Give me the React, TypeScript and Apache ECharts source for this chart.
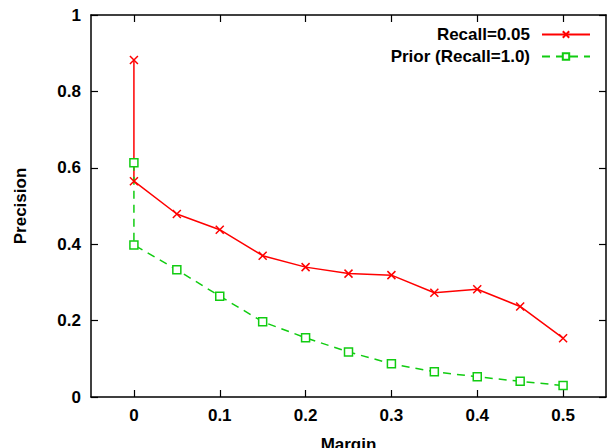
import React, { useEffect, useRef } from "react";
import * as echarts from "echarts";

const margins = [0, 0, 0.05, 0.1, 0.15, 0.2, 0.25, 0.3, 0.35, 0.4, 0.45, 0.5];
const recall005 = [0.882, 0.565, 0.479, 0.438, 0.37, 0.34, 0.323, 0.319, 0.273, 0.282, 0.237, 0.154];
const priorRecall1 = [0.613, 0.398, 0.333, 0.264, 0.197, 0.155, 0.118, 0.087, 0.066, 0.053, 0.041, 0.03];
const xTicks = [0, 0.1, 0.2, 0.3, 0.4, 0.5];
const seriesNames = ["Recall=0.05", "Prior (Recall=1.0)"];

const RED = "#ff0000";
const GREEN = "#11cc11";
const FONT = "Liberation Sans";

export default function App() {
  const ref = useRef<HTMLDivElement>(null);
  useEffect(() => {
    if (!ref.current) return;
    const chart = echarts.init(ref.current, undefined, { renderer: "svg" });
    const frameLine = { show: true, onZero: false, lineStyle: { color: "#000", width: 1.5 } };
    const tick = { show: true, inside: true, length: 7, lineStyle: { color: "#000", width: 1.2 } };
    const label = { color: "#000", fontFamily: FONT, fontWeight: "bold" as const, fontSize: 17 };
    chart.setOption({
      animation: false,
      backgroundColor: "#fff",
      grid: { left: 91, right: 1, top: 15, bottom: 51, outerBoundsMode: "none", containLabel: false },
      legend: [
        {
          data: [seriesNames[0]],
          orient: "vertical",
          right: 11,
          top: 21,
          align: "right",
          itemWidth: 48,
          itemHeight: 8,
          textStyle: { ...label, padding: [0, 7, 0, 0] },
        },
        {
          data: [seriesNames[1]],
          orient: "vertical",
          right: 11,
          top: 43,
          align: "right",
          itemWidth: 48,
          itemHeight: 8,
          textStyle: { ...label, padding: [0, 7, 0, 0] },
        },
      ],
      xAxis: [
        {
          type: "value",
          min: -0.05,
          max: 0.55,
          position: "bottom",
          name: "Margin",
          nameLocation: "middle",
          nameGap: 39,
          nameTextStyle: { ...label },
          axisLine: frameLine,
          axisTick: { ...tick, customValues: xTicks },
          axisLabel: { ...label, margin: 10, customValues: xTicks, formatter: (v: number) => String(v) },
          splitLine: { show: false },
        },
        {
          type: "value",
          min: -0.05,
          max: 0.55,
          position: "top",
          axisLine: frameLine,
          axisTick: { ...tick, customValues: xTicks },
          axisLabel: { show: false },
          splitLine: { show: false },
        },
      ],
      yAxis: [
        {
          type: "value",
          min: 0,
          max: 1,
          interval: 0.2,
          position: "left",
          name: "Precision",
          nameLocation: "middle",
          nameGap: 62,
          nameTextStyle: { ...label },
          axisLine: frameLine,
          axisTick: tick,
          axisLabel: { ...label, margin: 10 },
          splitLine: { show: false },
        },
        {
          type: "value",
          min: 0,
          max: 1,
          interval: 0.2,
          position: "right",
          axisLine: frameLine,
          axisTick: tick,
          axisLabel: { show: false },
          splitLine: { show: false },
        },
      ],
      series: [
        {
          name: seriesNames[0],
          type: "line",
          xAxisIndex: 0,
          yAxisIndex: 0,
          data: margins.map((m, i) => [m, recall005[i]]),
          symbol: "path://M0,0L8,8M0,8L8,0",
          symbolSize: 8,
          showAllSymbol: true,
          lineStyle: { color: RED, width: 1.5 },
          itemStyle: { color: RED, borderColor: RED, borderWidth: 1.5 },
        },
        {
          name: seriesNames[1],
          type: "line",
          xAxisIndex: 0,
          yAxisIndex: 0,
          data: margins.map((m, i) => [m, priorRecall1[i]]),
          symbol: "rect",
          symbolSize: 8,
          showAllSymbol: true,
          lineStyle: { color: GREEN, width: 1.5, type: [8, 6] },
          itemStyle: { color: "#fff", borderColor: GREEN, borderWidth: 1.5 },
        },
      ],
    });
    return () => chart.dispose();
  }, []);
  return <div ref={ref} style={{ width: 607, height: 448, position: "absolute", left: 0, top: 0 }} />;
}
